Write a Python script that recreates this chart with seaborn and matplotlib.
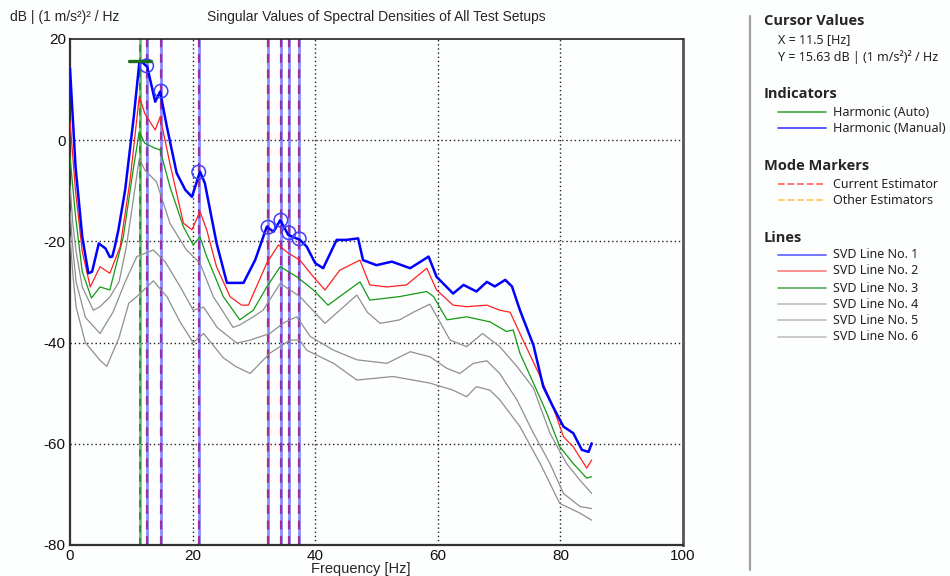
import numpy as np
import pandas as pd
import seaborn as sns
import matplotlib.pyplot as plt
from matplotlib.lines import Line2D

# SVD lines (frequency [Hz], level [dB])
svd1_hz = [0, 0.9, 2.0, 3.0, 3.6, 4.7, 5.8, 6.5, 6.9, 7.3, 7.9, 9.0, 10.4, 11.3, 11.7, 12.6,
           13.9, 14.7, 15.8, 17.4, 18.8, 19.9, 21.2, 22.0, 23.9, 25.6, 26.4, 28.3, 30.2, 32.1,
           33.2, 34.3, 35.6, 37.5, 38.6, 40.0, 41.3, 43.5, 45.1, 47.0, 47.8, 50.0, 52.5, 55.5,
           58.5, 59.8, 62.5, 64.2, 66.3, 68.0, 69.3, 71.0, 72.1, 73.4, 75.6, 77.2, 78.8, 80.5,
           82.1, 83.5, 84.6, 85.1]
svd1_db = [14.2, -5.2, -19.1, -26.3, -26.0, -20.4, -21.4, -23.1, -23.0, -21.1, -17.7, -9.8, 4.6,
           15.2, 15.5, 14.5, 7.6, 9.6, 2.7, -6.5, -9.8, -11.2, -6.2, -8.5, -20.3, -28.2, -28.2,
           -28.2, -23.7, -17.1, -18.1, -15.8, -18.7, -19.7, -21.0, -24.3, -25.3, -19.7, -19.7,
           -19.4, -23.7, -24.7, -24.0, -25.3, -23.0, -27.0, -30.3, -28.6, -29.9, -28.0, -28.9,
           -27.6, -28.9, -33.6, -40.5, -48.7, -52.7, -56.6, -57.9, -61.2, -61.6, -59.9]

svd2_hz = [0, 0.9, 2.0, 3.3, 4.9, 6.5, 8.2, 9.8, 11.3, 12.2, 13.9, 14.7, 16.3, 18.5, 19.9, 21.2,
           22.3, 23.9, 26.1, 28.0, 29.1, 32.1, 34.0, 35.6, 37.5, 39.7, 41.6, 44.0, 47.3, 48.9,
           51.7, 54.9, 58.2, 59.8, 62.5, 64.7, 68.0, 70.1, 71.8, 73.9, 76.7, 78.8, 80.5, 82.1,
           84.3, 85.1]
svd2_db = [3.7, -10.0, -22.0, -29.0, -25.0, -26.3, -21.0, -7.9, 8.6, 5.3, 2.0, 4.6, -4.6, -16.4,
           -17.7, -14.1, -17.7, -25.0, -30.9, -32.6, -32.6, -24.3, -20.7, -22.3, -23.7, -27.0,
           -29.6, -25.7, -23.7, -28.6, -29.0, -28.6, -25.3, -29.6, -32.6, -32.9, -32.6, -33.6,
           -34.0, -39.5, -46.7, -52.7, -58.6, -60.6, -64.8, -63.2]

svd3_hz = [0, 0.9, 2.0, 3.5, 4.9, 6.5, 8.7, 10.3, 11.3, 12.2, 13.9, 14.7, 16.3, 18.5, 20.1, 21.2,
           22.3, 25.0, 27.7, 29.9, 32.1, 34.3, 37.0, 39.7, 42.1, 44.0, 47.3, 48.9, 53.8, 58.2,
           59.3, 61.5, 64.7, 68.5, 71.2, 72.3, 73.4, 75.6, 77.8, 79.9, 82.1, 84.3, 85.1]
svd3_db = [-3.3, -15.0, -26.0, -31.2, -29.0, -29.6, -19.1, -5.9, 1.7, -0.6, -1.6, -1.9, -9.2,
           -17.1, -20.7, -19.1, -23.0, -30.9, -35.5, -33.6, -29.0, -25.0, -27.0, -29.6, -32.6,
           -30.9, -28.0, -31.6, -30.9, -29.9, -30.9, -35.5, -34.9, -35.9, -37.8, -37.5, -42.1,
           -48.0, -54.0, -60.6, -63.9, -66.8, -66.5]

svd4_hz = [0, 0.5, 1.0, 2.0, 3.8, 4.9, 6.5, 8.0, 9.2, 10.3, 11.3, 12.2, 14.1, 16.3, 19.0, 20.1,
           21.2, 23.4, 24.5, 26.6, 27.7, 29.9, 31.5, 34.3, 37.5, 41.6, 44.0, 46.8, 48.5, 50.6,
           53.8, 56.0, 58.7, 62.0, 64.7, 67.3, 70.1, 72.9, 75.6, 78.3, 81.0, 83.2, 85.1]
svd4_db = [-9.0, -17.0, -22.0, -29.0, -33.6, -32.9, -31.0, -28.0, -21.0, -12.0, -3.6, -5.9,
           -8.2, -16.4, -21.7, -23.0, -24.3, -31.0, -33.0, -37.0, -36.5, -34.9, -33.6, -28.3,
           -30.9, -36.2, -33.6, -30.6, -34.0, -36.2, -35.5, -34.0, -32.4, -39.5, -40.8, -38.2,
           -40.8, -44.7, -49.0, -57.9, -63.9, -67.2, -69.8]

svd5_hz = [0, 0.5, 1.0, 2.5, 4.9, 7.0, 9.0, 10.9, 13.6, 15.5, 18.0, 20.1, 21.8, 24.0, 27.2, 29.4,
           32.6, 35.0, 37.0, 39.2, 43.0, 46.8, 51.7, 55.5, 58.7, 61.5, 63.6, 65.8, 68.0, 70.1,
           72.9, 75.6, 78.3, 80.5, 83.2, 85.1]
svd5_db = [-14.0, -22.0, -28.0, -35.0, -38.2, -34.0, -28.0, -23.0, -21.7, -24.0, -29.0, -33.6,
           -33.0, -37.0, -40.1, -39.5, -38.2, -36.0, -34.9, -38.8, -41.5, -43.4, -44.1, -41.8,
           -42.8, -45.1, -46.1, -44.1, -43.6, -46.1, -51.3, -57.9, -63.9, -69.8, -72.4, -72.8]

svd6_hz = [0, 0.5, 1.0, 2.5, 4.9, 6.0, 8.0, 9.6, 10.9, 13.6, 15.8, 18.0, 20.1, 21.8, 25.0, 27.0,
           29.4, 32.6, 35.9, 37.5, 38.6, 43.0, 46.8, 52.7, 58.7, 62.5, 64.7, 66.3, 68.5, 70.1,
           73.4, 76.7, 79.9, 83.2, 85.1]
svd6_db = [-19.0, -27.0, -33.0, -40.0, -43.5, -44.7, -39.0, -32.2, -30.9, -27.8, -30.9, -36.0,
           -40.0, -38.2, -43.0, -44.7, -46.1, -42.1, -39.5, -39.5, -41.5, -44.1, -47.4, -46.7,
           -48.0, -49.4, -50.7, -48.7, -49.4, -51.3, -56.6, -63.9, -71.8, -73.7, -75.1]

# picked modes (manual harmonic indicators + current estimator markers)
mode_hz = [12.5, 14.85, 21.0, 32.3, 34.4, 35.7, 37.4]
mode_db = [14.7, 9.7, -6.3, -17.2, -15.8, -18.3, -19.5]

cursor_hz = 11.5
cursor_db = 15.63

line_labels = ['SVD Line No. 1', 'SVD Line No. 2', 'SVD Line No. 3',
               'SVD Line No. 4', 'SVD Line No. 5', 'SVD Line No. 6']

sns.set_style('white')
plt.rcParams['font.family'] = ['Liberation Sans', 'DejaVu Sans']
plt.rcParams['axes.unicode_minus'] = False

fig = plt.figure(figsize=(9.5, 5.76), dpi=100, facecolor='#fdfefe')
ax = fig.add_axes([70 / 950, 1 - 545 / 576, 613 / 950, 506 / 576])
ax.set_facecolor('#fdfefe')

# indicator / marker lines behind the curves
ax.axvline(cursor_hz, color='#5cb85c', lw=1.8, zorder=1)
ax.axvline(cursor_hz, color='#2e8b2e', lw=1.3, dashes=(4, 3), zorder=1)
for f in mode_hz:
    ax.axvline(f, color='#8a8aff', lw=2.0, zorder=1)
    ax.axvline(f, color='#9c3096', lw=1.6, dashes=(4, 3), zorder=1)

# dotted grid
for g in [20, 40, 60, 80]:
    ax.axvline(g, color='#222222', lw=1.0, ls=(0, (1, 2)), zorder=0.5)
for g in [0, -20, -40, -60]:
    ax.axhline(g, color='#222222', lw=1.0, ls=(0, (1, 2)), zorder=0.5)

series = [
    (svd6_hz, svd6_db, '#8f8f8f', 0.9),
    (svd5_hz, svd5_db, '#8f8f8f', 0.9),
    (svd4_hz, svd4_db, '#8f8f8f', 0.9),
    (svd3_hz, svd3_db, '#139a13', 0.9),
    (svd2_hz, svd2_db, '#ff2020', 0.9),
    (svd1_hz, svd1_db, '#0000ff', 1.8),
]
for hz, db, col, lw in series:
    sns.lineplot(x=hz, y=db, color=col, linewidth=lw, ax=ax, sort=False, zorder=3)

# peak circles and cursor marker
ax.scatter(mode_hz, mode_db, s=95, facecolors='none', edgecolors='#3f3fff', linewidths=1.1, zorder=4)
ax.plot([cursor_hz - 1.9, cursor_hz + 1.7], [cursor_db, cursor_db], color='#1b6e1b', lw=2.4, zorder=5)

ax.set_xlim(0, 100)
ax.set_ylim(-80, 20)
ax.set_xticks([0, 20, 40, 60, 80, 100])
ax.set_yticks([20, 0, -20, -40, -60, -80])
ax.tick_params(length=0, labelsize=11, pad=3, colors='#111111')
ax.set_xlabel('')
ax.set_ylabel('')

for side in ['left', 'bottom']:
    ax.spines[side].set_color('#333333')
    ax.spines[side].set_linewidth(1.6)
ax.spines['top'].set_color('#222222')
ax.spines['top'].set_linewidth(1.2)
ax.spines['right'].set_color('#555555')
ax.spines['right'].set_linewidth(2.0)

fig.text(10 / 950, 1 - 17 / 576, 'dB | (1 m/s²)² / Hz', fontsize=10, va='center', ha='left')
fig.text(376 / 950, 1 - 17 / 576, 'Singular Values of Spectral Densities of All Test Setups',
         fontsize=10, va='center', ha='center')
fig.text(361 / 950, 1 - 569 / 576, 'Frequency [Hz]', fontsize=10.5, va='center', ha='center')

# legend panel on the right, in pixel coordinates
lg = fig.add_axes([0, 0, 1, 1])
lg.set_xlim(0, 950)
lg.set_ylim(576, 0)
lg.axis('off')
lg.patch.set_alpha(0)
lg.plot([750, 750], [16, 570], color='#a0a0a0', lw=1.6)

head_kw = dict(fontsize=10.5, fontweight='bold', va='center', ha='left',
               family=['Open Sans', 'DejaVu Sans'])
item_kw = dict(fontsize=9, va='center', ha='left', family=['Noto Sans', 'DejaVu Sans'],
               color='#222222')

lg.text(764, 21, 'Cursor Values', **head_kw)
lg.text(778, 40, f'X = {cursor_hz} [Hz]', **item_kw)
lg.text(778, 57, f'Y = {cursor_db} dB | (1 m/s²)² / Hz', **item_kw)

lg.text(764, 94, 'Indicators', **head_kw)
lg.text(764, 166, 'Mode Markers', **head_kw)
lg.text(764, 238, 'Lines', **head_kw)

legend_rows = [
    (112, 'Harmonic (Auto)', '#4caf50', '-'),
    (128, 'Harmonic (Manual)', '#4b4bff', '-'),
    (184, 'Current Estimator', '#ff6b6b', '--'),
    (200, 'Other Estimators', '#ffc85a', '--'),
    (255, line_labels[0], '#6a6aff', '-'),
    (271, line_labels[1], '#ff8888', '-'),
    (288, line_labels[2], '#66b066', '-'),
    (304, line_labels[3], '#c4c4c4', '-'),
    (320, line_labels[4], '#c4c4c4', '-'),
    (337, line_labels[5], '#c4c4c4', '-'),
]
for y, label, col, ls in legend_rows:
    lg.add_line(Line2D([778, 826], [y, y], color=col, lw=1.3, ls=ls))
    lg.text(833, y, label, **item_kw)

plt.savefig('out.png', dpi=100, facecolor=fig.get_facecolor())
